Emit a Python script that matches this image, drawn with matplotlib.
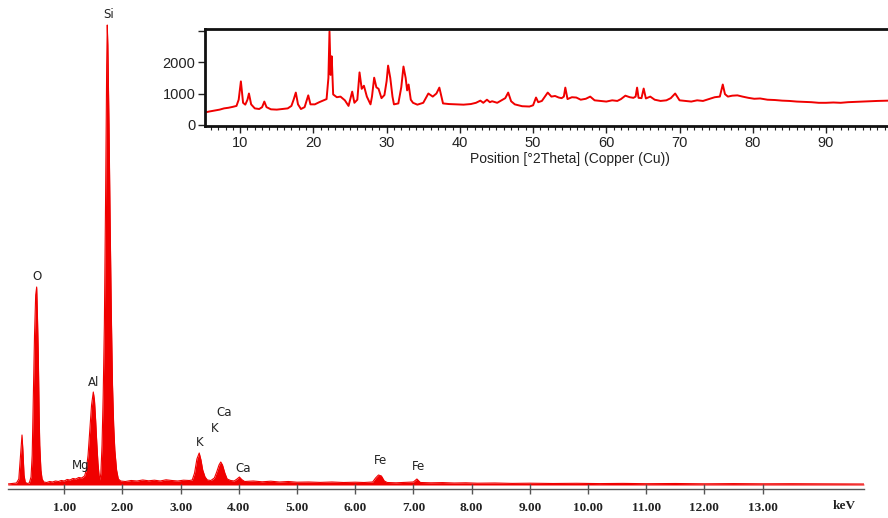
import numpy as np
import matplotlib
matplotlib.use("Agg")
import matplotlib.pyplot as plt
from matplotlib.ticker import MultipleLocator

# EDS spectrum (energy in keV, counts)
eds_kev = [0.03, 0.10, 0.18, 0.22, 0.25, 0.275, 0.29, 0.31, 0.33, 0.36,
           0.40, 0.43, 0.45, 0.47, 0.49, 0.51, 0.527, 0.54, 0.555, 0.57,
           0.58, 0.60, 0.62, 0.65, 0.70, 0.75, 0.80, 0.85, 0.90, 0.95,
           1.00, 1.05, 1.10, 1.15, 1.20, 1.25, 1.30, 1.35, 1.38, 1.41,
           1.44, 1.47, 1.50, 1.52, 1.54, 1.56, 1.58, 1.60, 1.615, 1.63,
           1.65, 1.67, 1.69, 1.71, 1.73, 1.74, 1.75, 1.77, 1.79, 1.81,
           1.83, 1.85, 1.87, 1.90, 1.93, 1.97, 2.05, 2.15, 2.25, 2.35,
           2.45, 2.55, 2.65, 2.75, 2.85, 2.95, 3.05, 3.15, 3.20, 3.24,
           3.28, 3.32, 3.35, 3.38, 3.42, 3.46, 3.52, 3.58, 3.62, 3.66,
           3.69, 3.72, 3.76, 3.80, 3.86, 3.92, 3.97, 4.01, 4.05, 4.10,
           4.25, 4.40, 4.55, 4.70, 4.85, 5.00, 5.20, 5.40, 5.60, 5.80,
           6.00, 6.15, 6.30, 6.35, 6.40, 6.45, 6.50, 6.55, 6.70, 6.85,
           7.00, 7.06, 7.12, 7.30, 7.50, 7.70, 7.90, 8.10, 8.40, 8.70,
           9.00, 9.40, 9.80, 10.2, 10.6, 11.0, 11.5, 12.0, 12.5, 13.0,
           13.5, 14.0, 14.4, 14.74]
eds_counts = [10, 15, 20, 60, 300, 500, 350, 100, 30, 15,
              20, 80, 300, 900, 1500, 1900, 1980, 1700, 1300, 700,
              400, 150, 60, 30, 25, 35, 30, 40, 35, 45,
              40, 55, 50, 65, 60, 75, 70, 90, 150, 300,
              550, 800, 930, 850, 650, 420, 220, 90, 50, 120,
              400, 900, 1600, 2800, 4200, 4600, 4400, 3600, 2600, 1700,
              1000, 600, 350, 150, 60, 40, 35, 45, 40, 50,
              42, 48, 40, 52, 45, 40, 48, 45, 50, 120,
              260, 320, 250, 150, 80, 50, 45, 70, 130, 200,
              230, 200, 120, 60, 45, 40, 60, 80, 55, 35,
              40, 32, 38, 30, 35, 28, 30, 26, 30, 25,
              28, 25, 30, 70, 100, 90, 40, 25, 22, 26,
              30, 60, 25, 22, 24, 20, 22, 18, 20, 16,
              18, 15, 17, 14, 16, 13, 15, 12, 14, 12,
              13, 12, 12, 10]

# element markers: (label, keV, counts)
eds_labels = ["Si", "O", "Al", "Mg", "K", "K", "Ca", "Ca", "Fe", "Fe"]
eds_label_kev = [1.77, 0.53, 1.51, 1.29, 3.32, 3.59, 3.75, 4.07, 6.43, 7.08]
eds_label_cts = [4700, 2080, 1020, 190, 420, 570, 730, 170, 240, 180]

kev_ticks = [1, 2, 3, 4, 5, 6, 7, 8, 9, 10, 11, 12, 13]

# XRD pattern (2theta, counts)
xrd_2theta = [5.2, 5.8, 6.5, 7.2, 7.8, 8.4, 9.0, 9.5, 9.8, 10.1,
              10.4, 10.7, 11.0, 11.2, 11.5, 12.0, 12.6, 13.0, 13.3, 13.6,
              14.2, 15.0, 15.8, 16.5, 17.0, 17.3, 17.6, 17.9, 18.3, 18.8,
              19.3, 19.6, 20.2, 20.8, 21.4, 21.8, 22.05, 22.2, 22.35, 22.5,
              22.7, 23.2, 23.7, 24.3, 24.8, 25.3, 25.6, 26.0, 26.3, 26.6,
              26.9, 27.3, 27.8, 28.0, 28.3, 28.6, 28.9, 29.3, 29.7, 30.0,
              30.2, 30.5, 30.8, 31.0, 31.6, 32.0, 32.3, 32.6, 32.8, 33.0,
              33.3, 33.6, 34.2, 35.0, 35.7, 36.3, 36.8, 37.2, 37.7, 38.5,
              39.5, 40.5, 41.5, 42.2, 42.8, 43.2, 43.7, 44.1, 44.4, 45.1,
              45.7, 46.2, 46.6, 47.0, 47.5, 48.5, 49.5, 50.0, 50.4, 50.7,
              51.2, 52.0, 52.5, 53.0, 53.5, 53.9, 54.2, 54.4, 54.7, 55.3,
              55.9, 56.5, 57.2, 57.8, 58.4, 59.2, 60.0, 60.8, 61.5, 62.0,
              62.6, 63.2, 63.7, 64.0, 64.2, 64.4, 64.8, 65.1, 65.4, 66.0,
              66.6, 67.4, 68.2, 68.8, 69.4, 70.0, 70.8, 71.6, 72.4, 73.2,
              74.0, 74.8, 75.5, 75.9, 76.2, 76.6, 77.2, 77.9, 78.6, 79.4,
              80.2, 81.0, 82.0, 83.0, 84.0, 85.0, 86.0, 87.0, 88.0, 89.0,
              90.0, 91.0, 92.0, 93.0, 94.0, 95.0, 96.0, 97.0, 98.6, 100.0]
xrd_counts = [390, 420, 450, 480, 520, 540, 570, 600, 800, 1390,
              700, 640, 800, 1000, 650, 520, 500, 560, 740, 560,
              490, 480, 500, 520, 600, 800, 1030, 650, 500, 560,
              940, 650, 650, 720, 780, 820, 1500, 3000, 1600, 2200,
              970, 880, 900, 780, 600, 1060, 700, 800, 1680, 1150,
              1250, 900, 650, 900, 1510, 1200, 1150, 850, 950, 1400,
              1900, 1500, 900, 650, 680, 1200, 1870, 1500, 1100, 1290,
              800, 700, 640, 700, 1000, 900, 1000, 1190, 680, 660,
              650, 640, 660, 700, 770, 700, 800, 720, 750, 700,
              780, 850, 1030, 750, 650, 590, 580, 620, 870, 720,
              760, 1030, 900, 920, 870, 850, 900, 1190, 820, 880,
              870, 800, 830, 900, 780, 760, 740, 780, 760, 820,
              930, 880, 860, 900, 1190, 860, 850, 1160, 840, 900,
              800, 760, 780, 850, 1000, 780, 760, 740, 780, 760,
              820, 880, 900, 1290, 980, 900, 930, 940, 900, 860,
              830, 840, 800, 790, 770, 760, 740, 730, 720, 700,
              700, 710, 700, 720, 730, 740, 750, 760, 770, 770]

W, H = 888, 518
fig = plt.figure(figsize=(W / 100, H / 100), dpi=100)
fig.patch.set_facecolor("white")

red = "#f00000"
ink = "#222222"

# main EDS panel: 58.2 px per keV, zero at x=6 px
ax = fig.add_axes([8 / W, (H - 489) / H, (864 - 8) / W, 489 / H])
ax.fill_between(eds_kev, 0, eds_counts, color=red, lw=0)
ax.plot(eds_kev, eds_counts, color=red, lw=0.8)
ax.set_xlim((8 - 6) / 58.2, (864 - 6) / 58.2)
ax.set_ylim(-40, 4850)
for s in ["left", "right", "top"]:
    ax.spines[s].set_visible(False)
ax.spines["bottom"].set_color("#555555")
ax.spines["bottom"].set_linewidth(1.0)
ax.set_yticks([])
ax.set_xticks(kev_ticks)
ax.set_xticklabels([f"{t:.2f}" for t in kev_ticks],
                   fontfamily="Liberation Serif", fontweight="bold",
                   fontsize=9.5, color=ink)
ax.tick_params(axis="x", direction="inout", length=7, width=1.0,
               color="#555555", pad=6)
ax.text((844 - 6) / 58.2, -150, "keV", ha="center", va="top",
        fontfamily="Liberation Serif", fontweight="bold", fontsize=9.5,
        color=ink)
for lab, kx, cy in zip(eds_labels, eds_label_kev, eds_label_cts):
    ax.text(kx, cy, lab, ha="center", va="center", fontsize=8.5,
            fontfamily="DejaVu Sans", color=ink)

# XRD inset
axi = fig.add_axes([205 / W, (H - 126) / H, 695 / W, 97 / H])
axi.set_facecolor("white")
axi.plot(xrd_2theta, xrd_counts, color=red, lw=1.4)
axi.set_xlim(5.2, 100.1)
axi.set_ylim(-48, 3080)
for s in ["left", "top", "bottom", "right"]:
    axi.spines[s].set_linewidth(2.0)
    axi.spines[s].set_color("#111111")
axi.set_yticks([0, 1000, 2000, 3000])
axi.set_yticklabels(["0", "1000", "2000", ""])
axi.xaxis.set_minor_locator(MultipleLocator(1))
axi.set_xticks(range(10, 100, 10))
axi.tick_params(axis="both", which="major", direction="out", length=5,
                width=1.0, labelsize=10.5, colors=ink, pad=2)
axi.tick_params(axis="x", which="minor", direction="out", length=3,
                width=0.8, color=ink)
for t in axi.get_xticklabels() + axi.get_yticklabels():
    t.set_fontfamily("Liberation Sans")
axi.set_xlabel("Position [°2Theta] (Copper (Cu))", fontfamily="Liberation Sans",
               fontsize=10, color=ink, labelpad=1)
axi.xaxis.set_label_coords((570 - 205) / 695, -0.27)

fig.savefig("out.png", dpi=100)
